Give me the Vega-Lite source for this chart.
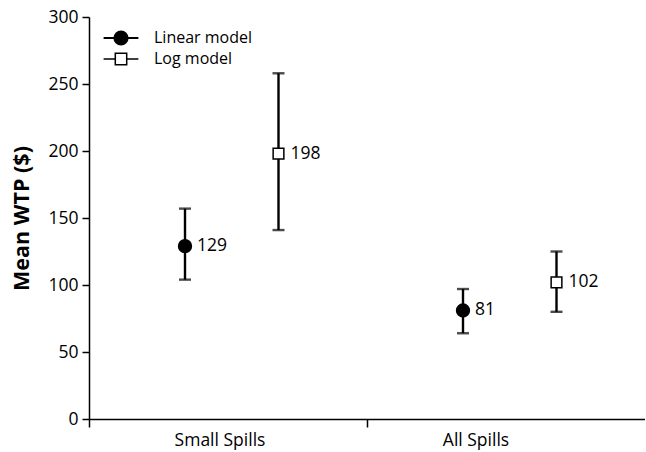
{
  "$schema": "https://vega.github.io/schema/vega-lite/v6.json",
  "width": 556,
  "height": 402,
  "autosize": {"type": "none"},
  "padding": {"left": 89, "top": 17, "right": 0, "bottom": 33},
  "background": "white",
  "config": {
    "view": {"stroke": null},
    "font": "Open Sans",
    "axis": {
      "domainColor": "black",
      "domainWidth": 1.5,
      "tickColor": "black",
      "tickWidth": 1.5,
      "labelColor": "black",
      "titleColor": "black",
      "grid": false,
      "labelFont": "Open Sans",
      "labelFontSize": 17.5
    },
    "legend": {
      "title": null,
      "padding": 0,
      "labelFont": "Open Sans",
      "labelFontSize": 16,
      "labelColor": "black",
      "symbolSize": 144,
      "symbolStrokeWidth": 2,
      "symbolStrokeColor": "black",
      "labelOffset": 25
    }
  },
  "data": {
    "values": [
      {"group": "Small Spills", "model": "Linear model", "mean": 129, "lo": 104, "hi": 157},
      {"group": "Small Spills", "model": "Log model", "mean": 198, "lo": 141, "hi": 258},
      {"group": "All Spills", "model": "Linear model", "mean": 81, "lo": 64, "hi": 97},
      {"group": "All Spills", "model": "Log model", "mean": 102, "lo": 80, "hi": 125}
    ]
  },
  "encoding": {
    "x": {
      "field": "group",
      "type": "nominal",
      "sort": ["Small Spills", "All Spills"],
      "scale": {"paddingInner": 0, "paddingOuter": 0},
      "axis": {
        "title": null,
        "labelAngle": 0,
        "bandPosition": 0,
        "tickSize": 8,
        "labelPadding": 4,
        "labelOffset": {"condition": {"test": "datum.value === 'All Spills'", "value": -30}, "value": -8}
      }
    },
    "xOffset": {
      "field": "model",
      "type": "nominal",
      "sort": ["Linear model", "Log model"],
      "scale": {"type": "point", "range": [96, 189.5], "padding": 0}
    }
  },
  "layer": [
    {
      "mark": {"type": "rule", "color": "black", "strokeWidth": 2.4},
      "encoding": {
        "y": {"field": "lo", "type": "quantitative"},
        "y2": {"field": "hi"}
      }
    },
    {
      "mark": {"type": "tick", "color": "black", "orient": "horizontal", "size": 12, "thickness": 2.4},
      "encoding": {"y": {"field": "lo", "type": "quantitative"}}
    },
    {
      "mark": {"type": "tick", "color": "black", "orient": "horizontal", "size": 12, "thickness": 2.4},
      "encoding": {"y": {"field": "hi", "type": "quantitative"}}
    },
    {
      "mark": {"type": "point", "opacity": 1, "stroke": "black"},
      "encoding": {
        "y": {
          "field": "mean",
          "type": "quantitative",
          "scale": {"domain": [0, 300], "nice": false},
          "axis": {
            "title": "Mean WTP ($)",
            "titleFont": "Open Sans",
            "titleFontSize": 21.5,
            "titleFontWeight": "bold",
            "titlePadding": 14,
            "values": [0, 50, 100, 150, 200, 250, 300],
            "tickSize": 7,
            "labelPadding": 4
          }
        },
        "shape": {
          "field": "model",
          "type": "nominal",
          "sort": ["Linear model", "Log model"],
          "scale": {"range": ["circle", "square"]},
          "legend": null
        },
        "size": {
          "field": "model",
          "type": "nominal",
          "sort": ["Linear model", "Log model"],
          "scale": {"range": [165, 115]},
          "legend": null
        },
        "fill": {
          "field": "model",
          "type": "nominal",
          "scale": {"domain": ["Linear model", "Log model"], "range": ["black", "white"]},
          "legend": {
            "values": ["Linear model"],
            "orient": "none",
            "legendX": 24,
            "legendY": 13,
            "symbolType": "M-2.9,0H-1.1M1.1,0H2.9M-1.1,0A1.1,1.1 0 1,1 1.1,0A1.1,1.1 0 1,1 -1.1,0Z"
          }
        },
        "strokeWidth": {
          "field": "model",
          "type": "nominal",
          "scale": {"domain": ["Log model", "Linear model"], "range": [1.5, 1.5]},
          "legend": {
            "values": ["Log model"],
            "orient": "none",
            "legendX": 24,
            "legendY": 34,
            "symbolFillColor": "white",
            "symbolType": "M-2.9,0H-0.95M0.95,0H2.9M-0.95,-0.95H0.95V0.95H-0.95Z"
          }
        }
      }
    },
    {
      "mark": {"type": "text", "align": "left", "baseline": "middle", "dx": 12, "fontSize": 17.5, "font": "Open Sans", "color": "black"},
      "encoding": {
        "y": {"field": "mean", "type": "quantitative"},
        "text": {"field": "mean", "type": "quantitative"}
      }
    }
  ]
}
